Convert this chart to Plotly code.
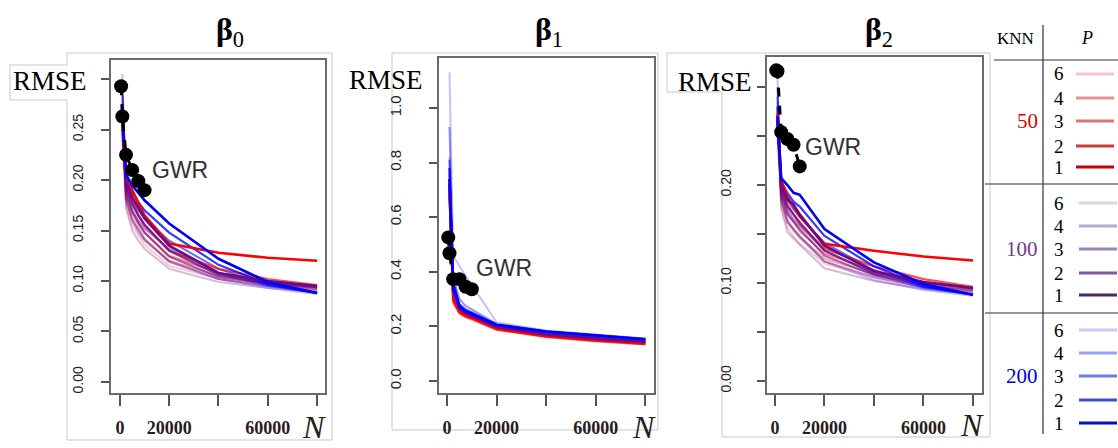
import plotly.graph_objects as go

W, H = 1118, 448

# ---------------- data ----------------
N_knn = [1000, 2500, 5000, 7500, 10000, 20000, 40000, 60000, 80000]
N_gwr = [500, 1000, 2500, 5000, 7500, 10000]
P_levels = [6, 4, 3, 2, 1]
KNN_levels = [50, 100, 200]

gwr_b0 = [0.293, 0.263, 0.225, 0.210, 0.199, 0.190]
gwr_b1 = [0.526, 0.468, 0.373, 0.373, 0.345, 0.336]
gwr_b2 = [0.317, 0.316, 0.254, 0.247, 0.241, 0.219]

# beta0 RMSE, keyed (KNN, P)
b0_knn50_p1 = [0.255, 0.205, 0.190, 0.178, 0.165, 0.137, 0.128, 0.123, 0.120]
b0_knn50_p2 = [0.250, 0.195, 0.178, 0.165, 0.155, 0.130, 0.112, 0.102, 0.096]
b0_knn50_p3 = [0.245, 0.188, 0.170, 0.158, 0.148, 0.125, 0.108, 0.099, 0.094]
b0_knn50_p4 = [0.240, 0.182, 0.163, 0.152, 0.142, 0.120, 0.105, 0.097, 0.092]
b0_knn50_p6 = [0.235, 0.175, 0.155, 0.145, 0.136, 0.115, 0.102, 0.095, 0.090]
b0_knn100_p1 = [0.260, 0.198, 0.183, 0.172, 0.162, 0.135, 0.108, 0.100, 0.095]
b0_knn100_p2 = [0.262, 0.192, 0.176, 0.165, 0.156, 0.130, 0.106, 0.098, 0.094]
b0_knn100_p3 = [0.265, 0.186, 0.168, 0.157, 0.148, 0.124, 0.104, 0.097, 0.093]
b0_knn100_p4 = [0.270, 0.180, 0.160, 0.150, 0.141, 0.119, 0.102, 0.095, 0.091]
b0_knn100_p6 = [0.280, 0.172, 0.150, 0.140, 0.132, 0.112, 0.099, 0.093, 0.089]
b0_knn200_p1 = [0.265, 0.205, 0.195, 0.188, 0.180, 0.157, 0.122, 0.099, 0.088]
b0_knn200_p2 = [0.275, 0.200, 0.188, 0.178, 0.170, 0.148, 0.116, 0.097, 0.088]
b0_knn200_p3 = [0.285, 0.195, 0.180, 0.170, 0.162, 0.140, 0.112, 0.096, 0.088]
b0_knn200_p4 = [0.295, 0.190, 0.170, 0.160, 0.152, 0.132, 0.108, 0.095, 0.088]
b0_knn200_p6 = [0.305, 0.182, 0.160, 0.148, 0.140, 0.120, 0.102, 0.093, 0.087]

# beta1 RMSE
b1_knn50_p1 = [0.71, 0.30, 0.255, 0.240, 0.232, 0.192, 0.165, 0.150, 0.138]
b1_knn50_p2 = [0.69, 0.30, 0.252, 0.238, 0.230, 0.190, 0.163, 0.148, 0.136]
b1_knn50_p3 = [0.68, 0.29, 0.250, 0.236, 0.228, 0.189, 0.162, 0.147, 0.135]
b1_knn50_p4 = [0.67, 0.29, 0.248, 0.234, 0.226, 0.188, 0.161, 0.146, 0.135]
b1_knn50_p6 = [0.66, 0.28, 0.246, 0.232, 0.224, 0.187, 0.160, 0.145, 0.134]
b1_knn100_p1 = [0.72, 0.33, 0.265, 0.248, 0.238, 0.198, 0.170, 0.155, 0.143]
b1_knn100_p2 = [0.74, 0.34, 0.268, 0.250, 0.240, 0.199, 0.171, 0.156, 0.144]
b1_knn100_p3 = [0.76, 0.35, 0.272, 0.253, 0.242, 0.200, 0.172, 0.157, 0.145]
b1_knn100_p4 = [0.78, 0.36, 0.276, 0.256, 0.245, 0.201, 0.173, 0.158, 0.146]
b1_knn100_p6 = [0.82, 0.38, 0.282, 0.260, 0.248, 0.203, 0.175, 0.160, 0.147]
b1_knn200_p1 = [0.74, 0.34, 0.270, 0.255, 0.245, 0.205, 0.180, 0.165, 0.152]
b1_knn200_p2 = [0.78, 0.35, 0.275, 0.258, 0.248, 0.206, 0.181, 0.166, 0.153]
b1_knn200_p3 = [0.81, 0.36, 0.282, 0.262, 0.252, 0.207, 0.182, 0.167, 0.154]
b1_knn200_p4 = [0.93, 0.38, 0.300, 0.275, 0.262, 0.209, 0.183, 0.168, 0.155]
b1_knn200_p6 = [1.13, 0.46, 0.420, 0.385, 0.350, 0.215, 0.185, 0.170, 0.156]

# beta2 RMSE
b2_knn50_p1 = [0.273, 0.205, 0.188, 0.178, 0.168, 0.140, 0.133, 0.127, 0.123]
b2_knn50_p2 = [0.265, 0.200, 0.180, 0.170, 0.160, 0.135, 0.117, 0.104, 0.096]
b2_knn50_p3 = [0.260, 0.192, 0.172, 0.162, 0.153, 0.130, 0.113, 0.101, 0.094]
b2_knn50_p4 = [0.255, 0.186, 0.165, 0.155, 0.147, 0.125, 0.109, 0.098, 0.092]
b2_knn50_p6 = [0.250, 0.178, 0.157, 0.147, 0.140, 0.120, 0.105, 0.095, 0.090]
b2_knn100_p1 = [0.265, 0.200, 0.185, 0.180, 0.170, 0.138, 0.112, 0.101, 0.095]
b2_knn100_p2 = [0.268, 0.195, 0.178, 0.170, 0.162, 0.133, 0.110, 0.100, 0.095]
b2_knn100_p3 = [0.272, 0.190, 0.170, 0.162, 0.155, 0.128, 0.108, 0.098, 0.093]
b2_knn100_p4 = [0.278, 0.184, 0.162, 0.155, 0.148, 0.122, 0.106, 0.096, 0.091]
b2_knn100_p6 = [0.285, 0.176, 0.152, 0.145, 0.139, 0.115, 0.102, 0.094, 0.089]
b2_knn200_p1 = [0.270, 0.207, 0.200, 0.192, 0.190, 0.155, 0.121, 0.099, 0.088]
b2_knn200_p2 = [0.280, 0.203, 0.192, 0.183, 0.178, 0.148, 0.117, 0.097, 0.088]
b2_knn200_p3 = [0.290, 0.198, 0.185, 0.175, 0.168, 0.141, 0.113, 0.096, 0.088]
b2_knn200_p4 = [0.300, 0.192, 0.175, 0.165, 0.158, 0.133, 0.109, 0.095, 0.088]
b2_knn200_p6 = [0.310, 0.185, 0.163, 0.153, 0.146, 0.122, 0.103, 0.093, 0.087]

g = globals()
panels = []
for b, gw in (("b0", gwr_b0), ("b1", gwr_b1), ("b2", gwr_b2)):
    series = {(k, p): g[f"{b}_knn{k}_p{p}"] for k in KNN_levels for p in P_levels}
    panels.append((series, gw))

x_ticks = [0, 20000, 40000, 60000, 80000]
x_ticktext = ["<b>0</b>", "<b>20000</b>", " ", "<b>60000</b>", " "]
y_ticks = [
    [0, 0.05, 0.10, 0.15, 0.20, 0.25, 0.30],
    [0, 0.2, 0.4, 0.6, 0.8, 1.0],
    [0, 0.05, 0.10, 0.15, 0.20, 0.25, 0.30],
]
y_ticktext = [
    ["0.00", "0.05", "0.10", "0.15", "0.20", "0.25", " "],
    ["0.0", "0.2", "0.4", "0.6", "0.8", "1.0"],
    ["0.00", " ", "0.10", " ", "0.20", " ", " "],
]
title_subs = ["0", "1", "2"]

# ------------- styles -------------
base_rgb = {50: (255, 0, 0), 100: (105, 10, 135), 200: (0, 0, 255)}
alpha_by = {
    50: {1: 1.0, 2: 0.7, 3: 0.5, 4: 0.36, 6: 0.22},
    100: {1: 1.0, 2: 0.8, 3: 0.62, 4: 0.45, 6: 0.28},
    200: {1: 1.0, 2: 0.78, 3: 0.58, 4: 0.42, 6: 0.24},
}
width_p = {1: 2.6, 2: 2.2, 3: 2.0, 4: 2.0, 6: 2.0}
legend_colors = {
    50: {6: "#f4c6c6", 4: "#e89494", 3: "#dc7474", 2: "#d03a3a", 1: "#cc0000"},
    100: {6: "#ddd5e6", 4: "#bba9cf", 3: "#9b85b6", 2: "#7b5a9c", 1: "#4b2a6b"},
    200: {6: "#c6cdf6", 4: "#98a2ee", 3: "#6c7ae4", 2: "#3b4ed8", 1: "#0012c8"},
}
knn_label_colors = {50: "#dd0000", 100: "#6a3d8a", 200: "#0000dd"}

# panel geometry in pixels: (left, right, top, bottom)
boxes = [(111, 325, 60, 393), (439, 654, 58, 393), (767, 982, 57, 393)]
x_ranges = [[-3600, 83200], [-3230, 83470], [-3230, 83640]]
y_ranges = [[-0.011, 0.319], [-0.044, 1.183], [-0.0122, 0.3306]]
ystandoff = [12, 22, 20]
ysize = [14, 15, 14]


def fx(x):
    return x / W


def fy(y):
    return 1 - y / H


def text_ann(x, y, text, size, family="Liberation Serif", color="black", xanchor="center"):
    return dict(x=fx(x), y=fy(y), xref="paper", yref="paper", text=text, showarrow=False,
                xanchor=xanchor, yanchor="middle",
                font=dict(family=family, size=size, color=color))


fig = go.Figure()

shapes = []
ann = []

# image-like frames
frame_paths = [
    [(10, 65), (67, 65), (67, 53), (332, 53), (332, 440), (67, 440), (67, 100), (10, 100)],
    [(392, 53), (658, 53), (658, 430), (392, 430)],
    [(667, 53), (990, 53), (990, 437), (722, 437), (722, 92), (667, 92)],
]
for pts in frame_paths:
    path = "M " + " L ".join(f"{fx(x):.5f},{fy(y):.5f}" for x, y in pts) + " Z"
    shapes.append(dict(type="path", path=path, xref="paper", yref="paper",
                       line=dict(color="#c8c8c8", width=1), fillcolor="white", layer="below"))

for i, (series, gw) in enumerate(panels):
    xa = "x" if i == 0 else f"x{i+1}"
    ya = "y" if i == 0 else f"y{i+1}"
    for p in P_levels:
        for k in (50, 100, 200):
            r, gg, bb = base_rgb[k]
            fig.add_trace(go.Scatter(
                x=N_knn, y=series[(k, p)], mode="lines", xaxis=xa, yaxis=ya,
                line=dict(color=f"rgba({r},{gg},{bb},{alpha_by[k][p]})", width=width_p[p]),
                showlegend=False, hoverinfo="skip"))
    fig.add_trace(go.Scatter(
        x=N_gwr, y=gw, mode="lines+markers", xaxis=xa, yaxis=ya,
        line=dict(color="black", width=3, dash="dash"),
        marker=dict(color="black", size=14),
        showlegend=False, hoverinfo="skip"))

    l, rgt, t, btm = boxes[i]
    axx = dict(domain=[fx(l), fx(rgt)], range=x_ranges[i], anchor=ya,
               showline=True, linecolor="#6a6a6a", linewidth=2, mirror=True,
               ticks="outside", ticklen=11, tickwidth=1.5, tickcolor="#555",
               tickvals=x_ticks, ticktext=x_ticktext, showgrid=False, zeroline=False,
               tickfont=dict(family="Liberation Serif", size=18, color="#2a1a22"),
               ticklabelstandoff=6)
    axy = dict(domain=[fy(btm), fy(t)], range=y_ranges[i], anchor=xa,
               showline=True, linecolor="#6a6a6a", linewidth=2, mirror=True,
               ticks="outside", ticklen=8, tickwidth=1.5, tickcolor="#555",
               tickvals=y_ticks[i], ticktext=y_ticktext[i], tickangle=-90,
               showgrid=False, zeroline=False,
               tickfont=dict(family="Liberation Sans", size=ysize[i], color="#22222e"),
               ticklabelstandoff=ystandoff[i])
    key = "" if i == 0 else str(i + 1)
    fig.update_layout(**{f"xaxis{key}": axx, f"yaxis{key}": axy})

# titles
for cx, sub in zip([230, 549, 879], title_subs):
    ann.append(text_ann(cx, 32, f"<b>β</b><sub>{sub}</sub>", 32))
# RMSE labels
for cx, cy in [(50, 81), (386, 80), (715, 82)]:
    ann.append(text_ann(cx, cy, "RMSE", 27))
# GWR labels
for cx, cy in [(180, 170), (504, 268), (833, 147)]:
    ann.append(text_ann(cx, cy, "GWR", 23, family="Liberation Sans", color="#303030"))
# N labels
for cx, cy in [(314, 427), (644, 427), (972, 425)]:
    ann.append(text_ann(cx, cy, "<i>N</i>", 32, color="#222"))

# ---------------- legend table ----------------
ann.append(text_ann(1015, 38, "KNN", 17))
ann.append(text_ann(1087, 38, "<i>P</i>", 18))
shapes.append(dict(type="line", xref="paper", yref="paper", x0=fx(1043), x1=fx(1043), y0=fy(25), y1=fy(434),
                   line=dict(color="#333", width=1.2)))
for y0, x0 in [(60, 994), (184, 985), (313, 985)]:
    shapes.append(dict(type="line", xref="paper", yref="paper", x0=fx(x0), x1=1, y0=fy(y0), y1=fy(y0),
                       line=dict(color="#333", width=1.2)))

legend_rows = {
    50: [74, 98, 121, 146, 167],
    100: [203, 226, 249, 273, 295],
    200: [330, 353, 376, 400, 423],
}
knn_label_y = {50: 121, 100: 249, 200: 376}
for k in KNN_levels:
    ann.append(text_ann(1040, knn_label_y[k], str(k), 21, color=knn_label_colors[k], xanchor="right"))
    lx0 = 1076 if k == 50 else 1079
    lx1 = 1114 if k == 50 else 1117
    for p, ry in zip(P_levels, legend_rows[k]):
        ann.append(text_ann(1059, ry, str(p), 19))
        shapes.append(dict(type="line", xref="paper", yref="paper", x0=fx(lx0), x1=fx(lx1),
                           y0=fy(ry), y1=fy(ry), line=dict(color=legend_colors[k][p], width=3)))

fig.update_layout(width=W, height=H, margin=dict(l=0, r=0, t=0, b=0),
                  paper_bgcolor="white", plot_bgcolor="white",
                  shapes=shapes, annotations=ann, showlegend=False)

fig.write_html("out.html")
